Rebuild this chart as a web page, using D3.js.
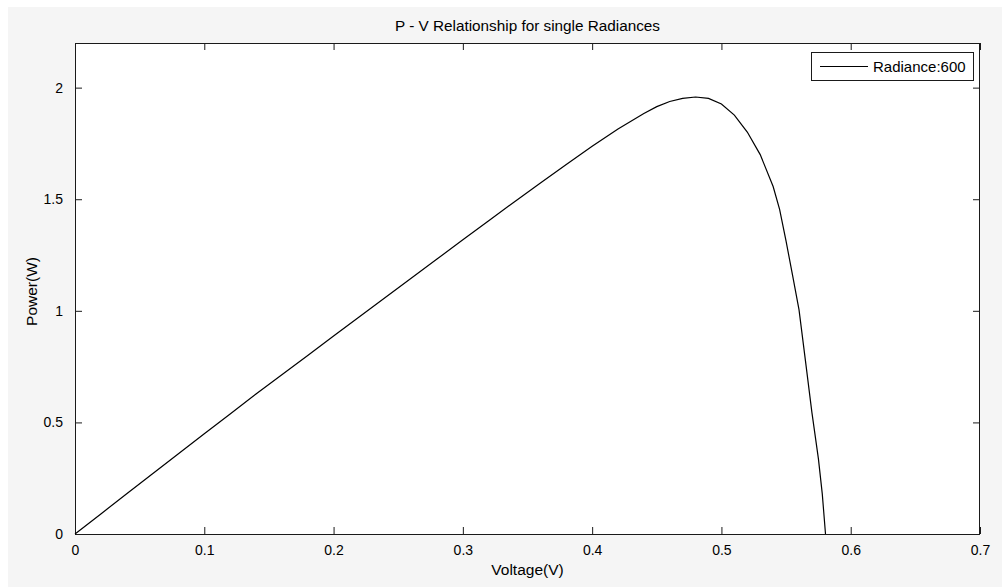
<!DOCTYPE html>
<html>
<head>
<meta charset="utf-8">
<script src="https://cdn.jsdelivr.net/npm/d3@7"></script>
<style>
  html, body { margin: 0; padding: 0; background: #ffffff; }
  svg { display: block; }
  text { font-family: "Liberation Sans", Arial, sans-serif; fill: #000; }
</style>
</head>
<body>
<svg id="chart" width="1002" height="587"></svg>
<script>
// P-V curve of a single cell at radiance 600
const voltage = [0, 0.02, 0.04, 0.06, 0.08, 0.10, 0.12, 0.14, 0.16, 0.18, 0.20, 0.22, 0.24,
  0.26, 0.28, 0.30, 0.32, 0.34, 0.36, 0.38, 0.40, 0.42, 0.44, 0.45, 0.46, 0.47, 0.48, 0.49,
  0.50, 0.51, 0.52, 0.53, 0.54, 0.545, 0.55, 0.555, 0.56, 0.565, 0.57, 0.575, 0.578, 0.5805];
const power = [0, 0.090, 0.180, 0.270, 0.360, 0.449, 0.538, 0.627, 0.714, 0.800, 0.887,
  0.973, 1.060, 1.146, 1.232, 1.318, 1.404, 1.489, 1.573, 1.656, 1.737, 1.815, 1.884, 1.915,
  1.938, 1.952, 1.958, 1.952, 1.927, 1.877, 1.801, 1.700, 1.557, 1.455, 1.312, 1.160, 1.005,
  0.776, 0.544, 0.338, 0.180, 0];

const xTicks = [0, 0.1, 0.2, 0.3, 0.4, 0.5, 0.6, 0.7];
const yTicks = [0, 0.5, 1, 1.5, 2];
const legendLabel = "Radiance:600";
const titleText = "P - V Relationship for single Radiances";
const xLabel = "Voltage(V)";
const yLabel = "Power(W)";

const svg = d3.select("#chart");
const W = 1002, H = 587;
const box = { left: 75, right: 980, top: 43, bottom: 534 };
const tickLen = 7;
const ink = "#1a1a1a";

// figure background panel
svg.append("rect").attr("x", 8).attr("y", 7).attr("width", W - 8).attr("height", H - 7)
  .attr("fill", "#f5f5f5");

const x = d3.scaleLinear().domain([0, 0.7]).range([box.left, box.right]);
const y = d3.scaleLinear().domain([0, 2.2]).range([box.bottom, box.top]);

// plot area
svg.append("rect")
  .attr("x", box.left).attr("y", box.top)
  .attr("width", box.right - box.left).attr("height", box.bottom - box.top)
  .attr("fill", "#ffffff");

// axes with inward ticks on all four sides
const fmt = d => d3.format("")(+d.toFixed(2));
const bottomAxis = d3.axisBottom(x).tickValues(xTicks).tickSize(-tickLen).tickPadding(tickLen + 4).tickFormat(fmt);
const topAxis = d3.axisTop(x).tickValues(xTicks).tickSize(-tickLen).tickFormat("");
const leftAxis = d3.axisLeft(y).tickValues(yTicks).tickSize(-tickLen).tickPadding(tickLen + 5).tickFormat(fmt);
const rightAxis = d3.axisRight(y).tickValues(yTicks).tickSize(-tickLen).tickFormat("");

function styleAxis(g) {
  g.select(".domain").remove();
  g.selectAll(".tick line").attr("stroke", ink).attr("stroke-width", 1);
  g.selectAll(".tick text").attr("font-size", 14).attr("fill", "#000")
    .style("font-family", '"Liberation Sans", Arial, sans-serif');
}

svg.append("g").attr("transform", `translate(0,${box.bottom})`).call(bottomAxis).call(styleAxis);
svg.append("g").attr("transform", `translate(0,${box.top})`).call(topAxis).call(styleAxis);
svg.append("g").attr("transform", `translate(${box.left},0)`).call(leftAxis).call(styleAxis);
svg.append("g").attr("transform", `translate(${box.right},0)`).call(rightAxis).call(styleAxis);

// frame
svg.append("rect")
  .attr("x", box.left + 0.5).attr("y", box.top + 0.5)
  .attr("width", box.right - box.left - 1).attr("height", box.bottom - box.top)
  .attr("fill", "none").attr("stroke", ink).attr("stroke-width", 1);

// curve
const pts = voltage.map((v, i) => [v, power[i]]);
const line = d3.line().x(d => x(d[0])).y(d => y(d[1]));
svg.append("path").datum(pts)
  .attr("d", line)
  .attr("fill", "none").attr("stroke", "#000").attr("stroke-width", 1.2);

// title and axis labels
svg.append("text").attr("x", (box.left + box.right) / 2).attr("y", 31)
  .attr("text-anchor", "middle").attr("font-size", 15.3).text(titleText);
svg.append("text").attr("x", (box.left + box.right) / 2).attr("y", 575)
  .attr("text-anchor", "middle").attr("font-size", 15.5).text(xLabel);
svg.append("text")
  .attr("transform", `translate(37,${(box.top + box.bottom) / 2 + 3}) rotate(-90)`)
  .attr("text-anchor", "middle").attr("font-size", 15.5).text(yLabel);

// legend
const lg = svg.append("g");
lg.append("rect").attr("x", 811.5).attr("y", 52.5).attr("width", 162).attr("height", 28)
  .attr("fill", "#ffffff").attr("stroke", ink).attr("stroke-width", 1);
lg.append("line").attr("x1", 820).attr("x2", 868).attr("y1", 66.5).attr("y2", 66.5)
  .attr("stroke", "#000").attr("stroke-width", 1.2);
lg.append("text").attr("x", 873).attr("y", 72).attr("font-size", 15).text(legendLabel);
</script>
</body>
</html>
